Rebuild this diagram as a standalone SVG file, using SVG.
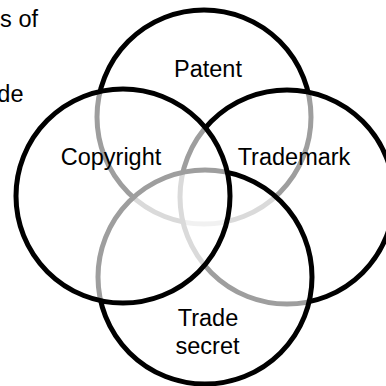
<svg xmlns="http://www.w3.org/2000/svg" width="386" height="386" viewBox="0 0 386 386">
  <style>
    .set { fill: #ffffff; fill-opacity: 0.62; stroke: #000000; stroke-width: 5; }
    .label { font-family: "Liberation Sans", Arial, sans-serif; font-size: 23.5px; fill: #000000; text-anchor: middle; }
    .body { font-family: "Liberation Sans", Arial, sans-serif; font-size: 23.5px; fill: #000000; text-anchor: end; }
  </style>
  <rect x="0" y="0" width="386" height="386" fill="#ffffff"/>

  <!-- tail of the surrounding paragraph -->
  <text class="body" x="38" y="27">s of</text>
  <text class="body" x="23.5" y="102">de</text>

  <!-- four overlapping sets; each translucent fill lightens the outlines beneath it -->
  <g id="patent">
    <circle class="set" cx="204" cy="117" r="107"/>
  </g>
  <g id="trademark">
    <circle class="set" cx="287" cy="197" r="107"/>
  </g>
  <g id="trade-secret">
    <circle class="set" cx="205" cy="277" r="107"/>
  </g>
  <g id="copyright">
    <circle class="set" cx="123" cy="196" r="107"/>
  </g>

  <g id="connectors"></g>

  <g id="labels">
    <text class="label" x="208" y="77">Patent</text>
    <text class="label" x="111" y="165">Copyright</text>
    <text class="label" x="294" y="165">Trademark</text>
    <text class="label" x="208" y="326">Trade</text>
    <text class="label" x="207.5" y="354">secret</text>
  </g>
</svg>
